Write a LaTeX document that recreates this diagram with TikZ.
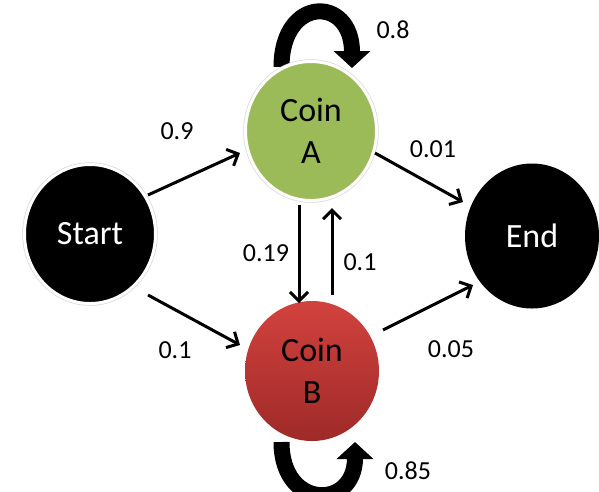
\documentclass[tikz,border=0pt]{standalone}
\usepackage{fontspec}
\setmainfont{Carlito}
\usetikzlibrary{shapes.geometric,arrows.meta,calc,backgrounds}
\definecolor{coinA}{RGB}{155,187,89}
\definecolor{coinBtop}{RGB}{210,66,62}
\definecolor{coinBbot}{RGB}{158,42,40}
\begin{document}
\begin{tikzpicture}[x=1pt,y=-1pt,
  state/.style={ellipse, minimum width=131pt, minimum height=139pt, inner sep=0pt, align=center, font=\fontsize{34}{42}\selectfont},
  ring/.style={preaction={draw=black!15,line width=4.5pt}, draw=white, line width=3pt},
  arr/.style={line width=3pt, -{Straight Barb[length=9pt,width=18pt]}},
  selfloop/.style={line width=16pt, -{Triangle[length=17pt,width=36pt]}},
  lbl/.style={font=\fontsize{26}{30}\selectfont, inner sep=0pt}]
\useasboundingbox (0,0) rectangle (599,491);

\node[state, ring, fill=black, text=white] (Start) at (90,234) {Start};
\node[state, ring, fill=coinA] (A) at (311,131) {Coin\\A};
\node[state, top color=coinBtop, bottom color=coinBbot, minimum width=134pt, minimum height=140pt] (B) at (312,371) {Coin\\B};
\node[state, fill=black, text=white, minimum width=134pt, minimum height=145pt] (End) at (532,236) {End};

\begin{scope}[on background layer]
\draw[selfloop] ($(A)+(-29.5,-64)$) .. controls ($(A)+(-29.5,-135.5)$) and ($(A)+(41,-135.5)$) .. ($(A)+(41,-63)$);
\draw[selfloop] ($(B)+(-30.5,71)$) .. controls ($(B)+(-30.5,139)$) and ($(B)+(43,139)$) .. ($(B)+(43,71)$);
\end{scope}

\draw[arr] ($(Start)+(58,-39)$) -- ($(A)+(-71,22)$);
\draw[arr] ($(Start)+(58,61)$) -- ($(B)+(-72,-26)$);
\draw[arr] ($(A)+(-12,74)$) -- ($(B)+(-13,-68)$);
\draw[arr] ($(B)+(20,-76)$) -- ($(A)+(21,77)$);
\draw[arr] ($(A)+(64,22)$) -- ($(End)+(-69,-34)$);
\draw[arr] ($(B)+(71,-41)$) -- ($(End)+(-59,49)$);

\node[lbl] (l1) at (393,30) {0.8};
\node[lbl] (l2) at (177,131) {0.9};
\node[lbl] (l3) at (175,350) {0.1};
\node[lbl] (l4) at (266,253) {0.19};
\node[lbl] (l5) at (360,262) {0.1};
\node[lbl] (l6) at (433,149) {0.01};
\node[lbl] (l7) at (451,349) {0.05};
\node[lbl] (l8) at (408,471) {0.85};
\end{tikzpicture}
\end{document}
